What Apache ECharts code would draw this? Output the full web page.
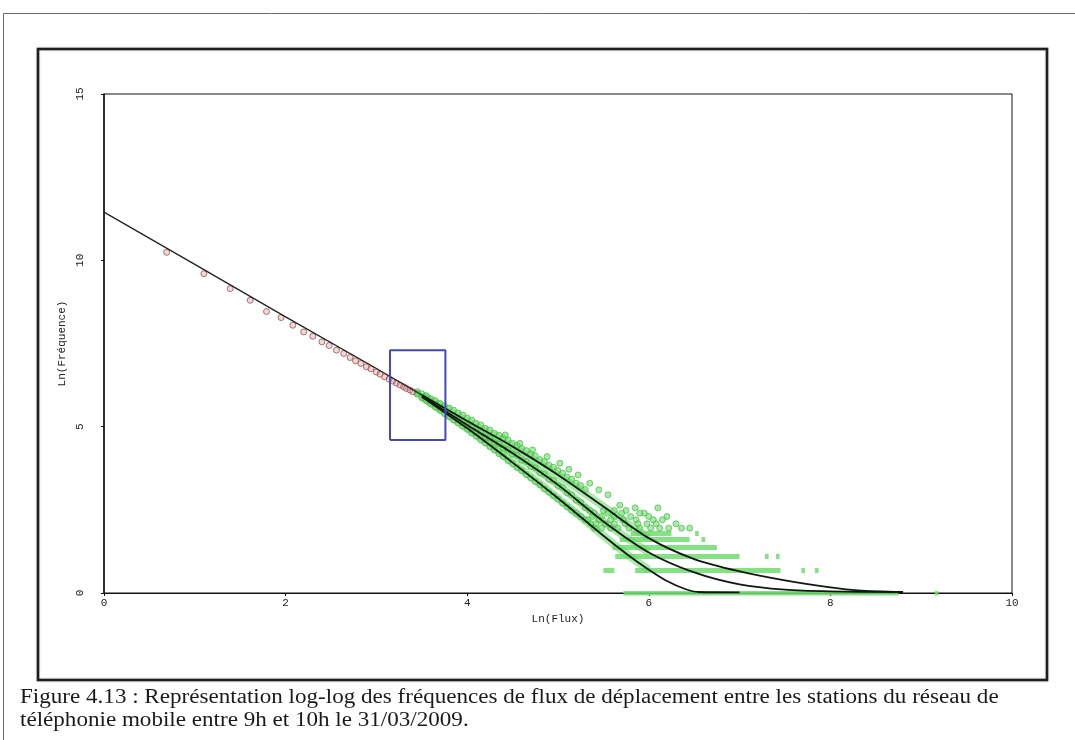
<!DOCTYPE html>
<html>
<head>
<meta charset="utf-8">
<title>Ln(Flux) / Ln(Fréquence)</title>
<script src="https://cdn.jsdelivr.net/npm/echarts@6/dist/echarts.min.js"></script>
<style>
  html, body { margin: 0; padding: 0; background: #fff; }
  #chart { width: 1075px; height: 740px; }
</style>
</head>
<body>
<div id="chart"></div>
<script>
// axes
const xTicks = [0, 2, 4, 6, 8, 10]
const yTicks = [0, 5, 10, 15]

// observed points, small flux (red)
const redX = [0.69, 1.10, 1.39, 1.61, 1.79, 1.95, 2.08, 2.20, 2.30, 2.40, 2.48, 2.56, 2.64, 2.71, 2.77,
  2.83, 2.89, 2.94, 3.00, 3.04, 3.09, 3.14, 3.18, 3.22, 3.26, 3.30, 3.33, 3.37, 3.40]
const redY = [10.24, 9.60, 9.15, 8.80, 8.46, 8.28, 8.05, 7.85, 7.72, 7.55, 7.44, 7.30, 7.20, 7.08, 6.98,
  6.90, 6.80, 6.74, 6.64, 6.58, 6.50, 6.43, 6.37, 6.31, 6.25, 6.20, 6.15, 6.10, 6.05]

// observed points, larger flux (green) - three overlapping samples
const greenX = [3.45, 3.50, 3.55, 3.60, 3.65, 3.70, 3.75, 3.80, 3.85, 3.90, 3.95, 4.00, 4.05, 4.10, 4.15,
  4.20, 4.25, 4.30, 4.35, 4.40, 4.45, 4.50, 4.55, 4.60, 4.65, 4.70, 4.75, 4.80, 4.85, 4.90,
  4.95, 5.00, 5.05, 5.10, 5.15, 5.20, 5.25, 5.30]
const greenHiY = [6.05, 5.99, 5.93, 5.84, 5.78, 5.70, 5.63, 5.56, 5.50, 5.41, 5.35, 5.26, 5.20, 5.10, 5.05,
  4.95, 4.90, 4.80, 4.74, 4.66, 4.60, 4.50, 4.44, 4.34, 4.28, 4.18, 4.12, 4.01, 3.95, 3.84,
  3.78, 3.68, 3.60, 3.49, 3.42, 3.30, 3.23, 3.11]
const greenMidY = [6.00, 5.90, 5.84, 5.73, 5.67, 5.55, 5.50, 5.38, 5.33, 5.20, 5.16, 5.03, 4.99, 4.86, 4.82,
  4.69, 4.66, 4.52, 4.48, 4.35, 4.31, 4.18, 4.14, 3.99, 3.95, 3.80, 3.76, 3.61, 3.57, 3.42,
  3.38, 3.23, 3.17, 3.01, 2.95, 2.79, 2.73, 2.57]
const greenLowY = [5.98, 5.87, 5.78, 5.68, 5.58, 5.49, 5.39, 5.30, 5.20, 5.11, 5.01, 4.92, 4.81, 4.71, 4.60,
  4.51, 4.40, 4.30, 4.19, 4.10, 3.98, 3.89, 3.77, 3.68, 3.56, 3.46, 3.35, 3.25, 3.13, 3.03,
  2.92, 2.82, 2.70, 2.59, 2.48, 2.40, 2.30, 2.20]
// scattered green points (outliers and low counts)
const greenExtra = [
  [4.42, 4.75], [4.58, 4.50], [4.72, 4.30], [4.88, 4.10], [5.02, 3.90], [5.12, 3.72], [5.22, 3.55],
  [5.35, 3.30], [5.45, 3.10], [5.55, 2.95], [5.68, 2.64], [5.85, 2.56], [6.10, 2.56], [5.95, 2.40], [6.20, 2.30],
  [5.35, 2.48], [5.50, 2.48], [5.62, 2.48], [5.75, 2.48],
  [5.40, 2.40], [5.55, 2.40], [5.70, 2.40], [5.90, 2.40],
  [5.38, 2.30], [5.48, 2.30], [5.62, 2.30], [5.80, 2.30], [6.00, 2.30],
  [5.33, 2.20], [5.45, 2.20], [5.58, 2.20], [5.72, 2.20], [5.86, 2.20], [6.05, 2.20], [6.15, 2.20],
  [5.36, 2.08], [5.42, 2.08], [5.52, 2.08], [5.62, 2.08], [5.74, 2.08], [5.88, 2.08], [5.98, 2.08], [6.08, 2.08], [6.30, 2.08],
  [5.40, 1.95], [5.48, 1.95], [5.58, 1.95], [5.66, 1.95], [5.78, 1.95], [5.90, 1.95], [6.02, 1.95], [6.12, 1.95],
  [6.22, 1.95], [6.36, 1.95], [6.45, 1.95]
]

// rows of equal low frequency: [ln(freq), from, to]
const bandRows = [
  [0, 5.72, 8.75], [0, 9.15, 9.19],
  [0.69, 5.50, 5.62], [0.69, 5.85, 7.45], [0.69, 7.68, 7.72], [0.69, 7.83, 7.87],
  [1.10, 5.63, 7.00], [1.10, 7.28, 7.32], [1.10, 7.40, 7.44],
  [1.39, 5.60, 6.75],
  [1.61, 5.68, 6.45], [1.61, 6.58, 6.62],
  [1.79, 5.80, 6.25], [1.79, 6.51, 6.55]
]

// fitted models
const fitLine = [[0, 11.45], [1, 9.88], [2, 8.30], [3, 6.75], [3.5, 5.95]]
const fitHigh = [[3.5, 5.95], [4.0, 5.17], [4.5, 4.40], [5.0, 3.55], [5.5, 2.60], [6.0, 1.65], [6.5, 1.02],
  [7.0, 0.65], [7.5, 0.38], [8.0, 0.17], [8.3, 0.08], [8.8, 0.03]]
const fitMid = [[3.5, 5.92], [4.0, 5.05], [4.5, 4.20], [5.0, 3.25], [5.5, 2.15], [6.0, 1.22], [6.5, 0.62],
  [7.0, 0.26], [7.5, 0.10], [8.0, 0.05], [8.8, 0.03]]
const fitLow = [[3.5, 5.90], [4.0, 4.95], [4.5, 3.92], [5.0, 2.85], [5.5, 1.72], [5.8, 1.08], [6.0, 0.70],
  [6.2, 0.36], [6.4, 0.12], [6.55, 0.03], [7.0, 0.02]]

// zoomed zone
const boxX = [3.15, 3.76]
const boxY = [4.6, 7.3]

const chart = echarts.init(document.getElementById('chart'), null, { renderer: 'canvas' })

const monoFont = 'Liberation Mono'
const pair = (xs, ys) => xs.map((x, i) => [x, ys[i]])

const greenStyle = { color: 'rgba(105,224,105,0.75)', borderColor: '#3fae3f', borderWidth: 0.8 }
const greenSeries = data => ({
  type: 'scatter',
  z: 3,
  symbol: 'circle',
  symbolSize: 6,
  itemStyle: greenStyle,
  data: data
})
const curveSeries = data => ({
  type: 'line',
  z: 4,
  smooth: 0.3,
  showSymbol: false,
  lineStyle: { color: '#151515', width: 1.8 },
  data: data
})
// dense overlapping green points hugging each fit, drawn as a soft band
const glowSeries = data => ({
  type: 'line',
  z: 2,
  smooth: 0.3,
  showSymbol: false,
  lineStyle: { color: 'rgba(95,218,95,0.55)', width: 8 },
  data: data.filter(p => p[0] <= 6.0)
})

const option = {
  animation: false,
  backgroundColor: '#fff',
  grid: {
    left: 104,
    right: 63,
    top: 94,
    bottom: 147,
    show: true,
    borderColor: '#111',
    borderWidth: 1
  },
  xAxis: {
    type: 'value',
    min: xTicks[0],
    max: xTicks[xTicks.length - 1],
    interval: 2,
    name: 'Ln(Flux)',
    nameLocation: 'middle',
    nameGap: 14,
    nameTextStyle: { fontFamily: monoFont, fontSize: 11, color: '#222' },
    axisLine: { lineStyle: { color: '#111', width: 1 } },
    axisTick: { length: 3, lineStyle: { color: '#111' } },
    axisLabel: { fontFamily: monoFont, fontSize: 11, color: '#222', margin: 5 },
    splitLine: { show: false }
  },
  yAxis: {
    type: 'value',
    min: yTicks[0],
    max: yTicks[yTicks.length - 1],
    interval: 5,
    name: 'Ln(Fréquence)',
    nameLocation: 'middle',
    nameRotate: 90,
    nameGap: 34,
    nameTextStyle: { fontFamily: monoFont, fontSize: 11, color: '#222' },
    axisLine: { lineStyle: { color: '#111', width: 1.5 } },
    axisTick: { length: 3, lineStyle: { color: '#111' } },
    axisLabel: { fontFamily: monoFont, fontSize: 11, color: '#222', rotate: 90, margin: 18 },
    splitLine: { show: false }
  },
  series: [
    {
      type: 'lines',
      coordinateSystem: 'cartesian2d',
      z: 2,
      lineStyle: { color: '#6edc6e', width: 5, opacity: 0.85 },
      data: bandRows.map(r => ({ coords: [[r[1], r[0]], [r[2], r[0]]] }))
    },
    glowSeries(fitHigh),
    glowSeries(fitMid),
    glowSeries(fitLow),
    greenSeries(pair(greenX, greenHiY)),
    greenSeries(pair(greenX, greenMidY)),
    greenSeries(pair(greenX, greenLowY)),
    greenSeries(greenExtra),
    {
      type: 'scatter',
      z: 3,
      symbol: 'circle',
      symbolSize: 6,
      itemStyle: { color: 'rgba(235,150,150,0.5)', borderColor: '#8e5454', borderWidth: 1 },
      data: pair(redX, redY)
    },
    {
      type: 'line',
      z: 4,
      showSymbol: false,
      lineStyle: { color: '#222', width: 1.3 },
      data: fitLine
    },
    curveSeries(fitHigh),
    curveSeries(fitMid),
    curveSeries(fitLow),
    {
      type: 'line',
      z: 5,
      showSymbol: false,
      lineStyle: { color: '#4646c4', width: 2 },
      data: [[boxX[0], boxY[0]], [boxX[0], boxY[1]], [boxX[1], boxY[1]], [boxX[1], boxY[0]], [boxX[0], boxY[0]]]
    }
  ],
  graphic: [
    {
      type: 'rect',
      z: -1,
      shape: { x: 3.5, y: 13.5, width: 1100, height: 760 },
      style: { fill: null, stroke: '#6a6a6a', lineWidth: 1 }
    },
    {
      type: 'rect',
      z: -1,
      shape: { x: 38, y: 49, width: 1009, height: 631 },
      style: { fill: null, stroke: '#1e1e1e', lineWidth: 2.5, shadowColor: 'rgba(0,0,0,0.35)', shadowBlur: 2 }
    },
    {
      type: 'text',
      x: 20,
      y: 686,
      scaleX: 1.154,
      style: {
        text: 'Figure 4.13 : Représentation log-log des fréquences de flux de déplacement entre les stations du réseau de\ntéléphonie mobile entre 9h et 10h le 31/03/2009.',
        font: '20px "Liberation Serif"',
        lineHeight: 23,
        verticalAlign: 'top',
        fill: '#1a1a1a'
      }
    }
  ]
}

chart.setOption(option)
</script>
</body>
</html>
